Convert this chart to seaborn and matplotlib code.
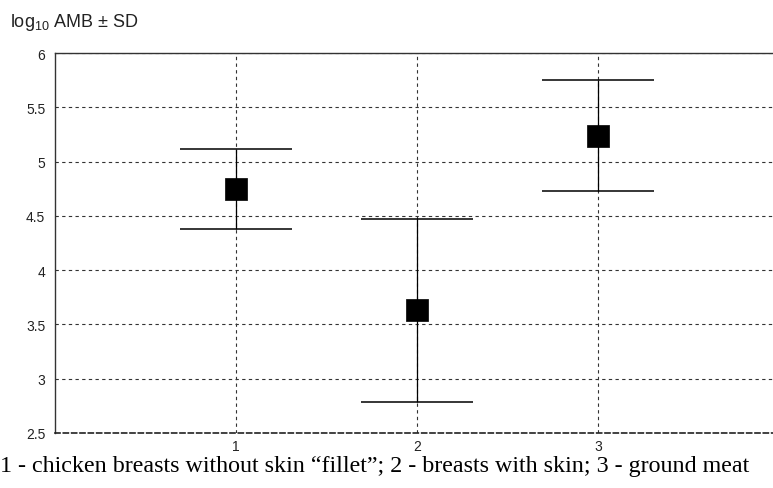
import numpy as np
import pandas as pd
import matplotlib
matplotlib.use("Agg")
import matplotlib.pyplot as plt
import seaborn as sns

# values
groups = [1, 2, 3]
means = [4.75, 3.63, 5.24]
upper = [5.12, 4.47, 5.75]
lower = [4.38, 2.79, 4.73]
caption = "1 - chicken breasts without skin \u201cfillet\u201d; 2 - breasts with skin; 3 - ground meat"

df = pd.DataFrame({"group": groups, "mean": means, "upper": upper, "lower": lower})

sns.set_style("white")
plt.rcParams['font.family'] = ['Liberation Sans', 'DejaVu Sans']
plt.rcParams['mathtext.fontset'] = 'custom'
plt.rcParams['mathtext.rm'] = 'Liberation Sans'

fig = plt.figure(figsize=(7.73, 4.89), dpi=100)
ax = fig.add_axes([0.0712, 0.1125, 0.937, 0.777])

# error bars: black stem, grey caps
yerr = [df["mean"] - df["lower"], df["upper"] - df["mean"]]
eb = ax.errorbar(df["group"], df["mean"], yerr=yerr, fmt="none", ecolor="black",
                 elinewidth=0.9, capsize=40, capthick=1.1, zorder=3)
for cap in eb[1]:
    cap.set_color("#666666")

sns.scatterplot(data=df, x="group", y="mean", marker="s", s=265, color="black",
                edgecolor="black", linewidth=0.5, ax=ax, zorder=4, legend=False)

ax.set_xlim(0, 4)
ax.set_ylim(2.5, 6)
ax.set_xticks(groups)
ax.set_yticks([2.5, 3, 3.5, 4, 4.5, 5, 5.5, 6])
ax.set_yticklabels(["2.5", "3", "3.5", "4", "4.5", "5", "5.5", "6"])
ax.grid(True, color="#333333", linestyle=(0, (3, 3)), linewidth=0.8)
ax.set_axisbelow(True)
ax.tick_params(axis="both", length=0, labelsize=10, colors="#222222")
ax.tick_params(axis="x", pad=4)
ax.tick_params(axis="y", pad=7)
ax.set_xlabel("")
ax.set_ylabel("")

for side in ["left", "top"]:
    ax.spines[side].set_color("#333333")
    ax.spines[side].set_linewidth(1.0)
ax.spines["right"].set_visible(False)
ax.spines["bottom"].set_color("#222222")
ax.spines["bottom"].set_linestyle((0, (3, 2)))
ax.spines["bottom"].set_linewidth(1.2)

fig.text(0.013, 0.955, "log$_{\\mathregular{10}}$ AMB \u00b1 SD",
         fontsize=13, color="#222222", ha="left", va="center")
fig.text(0.0, 0.047, caption, fontsize=17.3, family=["Liberation Serif", "DejaVu Serif"],
         ha="left", va="center", color="black")

fig.savefig("out.png", dpi=100)
